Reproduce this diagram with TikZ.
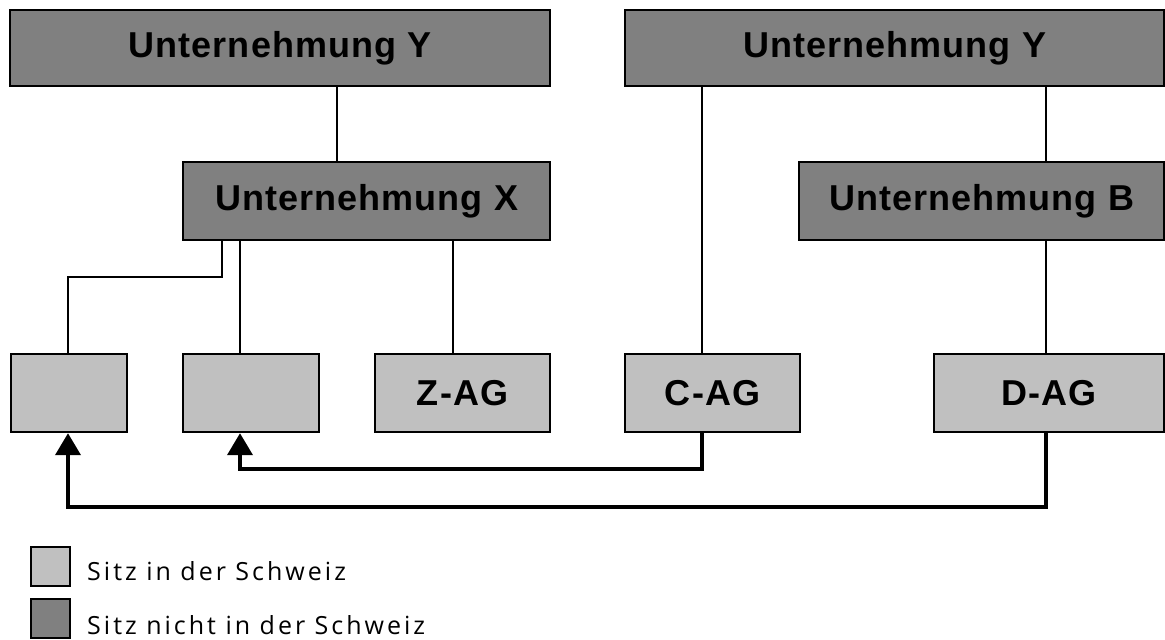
\documentclass[tikz,border=0pt]{standalone}
\usepackage{fontspec}
\setmainfont{Liberation Sans}
\newfontfamily\boxfont[LetterSpace=3]{Liberation Sans}
\newfontfamily\legfont[LetterSpace=12]{Open Sans}
\usetikzlibrary{arrows.meta}
\definecolor{darkbox}{HTML}{808080}
\definecolor{lightbox}{HTML}{C0C0C0}
\begin{document}
\begin{tikzpicture}[x=1pt,y=-1pt,
  company/.style={draw=black, line width=2.2pt, inner sep=0pt, anchor=north west,
    font=\boxfont\bfseries\fontsize{36}{40}\selectfont},
  foreign/.style={company, fill=darkbox},
  swiss/.style={company, fill=lightbox},
  link/.style={line width=1.8pt},
  flow/.style={line width=4pt, -{Triangle[length=22pt,width=25pt]}},
  legbox/.style={draw=black, line width=2pt, fill=#1, inner sep=0pt, anchor=north west,
    minimum width=39pt, minimum height=39pt},
  legtext/.style={anchor=base west, inner sep=0pt, font=\legfont\fontsize{25}{30}\selectfont}
]
\useasboundingbox (0,0) rectangle (1165,640);
% top level
\node[foreign, minimum width=540pt, minimum height=76pt] (yl) at (9,9) {Unternehmung Y};
\node[foreign, minimum width=539pt, minimum height=76pt] (yr) at (624,9) {Unternehmung Y};
% middle level
\node[foreign, minimum width=367pt, minimum height=78pt] (ux) at (182,161) {Unternehmung X};
\node[foreign, minimum width=365pt, minimum height=78pt] (ub) at (798,161) {Unternehmung B};
% bottom level
\node[swiss, minimum width=116pt, minimum height=78pt] (b1) at (10,353) {};
\node[swiss, minimum width=136pt, minimum height=78pt] (b2) at (182,353) {};
\node[swiss, minimum width=175pt, minimum height=78pt] (zag) at (374,353) {Z-AG};
\node[swiss, minimum width=175pt, minimum height=78pt] (cag) at (624,353) {C-AG};
\node[swiss, minimum width=230pt, minimum height=78pt] (dag) at (933,353) {D-AG};
% connectors
\draw[link] (yl.south -| 337,0) -- (ux.north -| 337,0);
\draw[link] (ux.south -| 222,0) |- (68,277) -- (b1.north -| 68,0);
\draw[link] (ux.south -| 240,0) -- (b2.north -| 240,0);
\draw[link] (ux.south -| 453,0) -- (zag.north -| 453,0);
\draw[link] (yr.south -| 702,0) -- (cag.north -| 702,0);
\draw[link] (yr.south -| 1046,0) -- (ub.north -| 1046,0);
\draw[link] (ub.south -| 1046,0) -- (dag.north -| 1046,0);
% flows
\coordinate (c1) at (702,469);
\coordinate (c2) at (240,469);
\coordinate (d1) at (1046,507);
\coordinate (d2) at (68,507);
\draw[flow] (cag.south -| c1) -- (c1) -- (c2) -- (b2.south -| c2);
\draw[flow] (dag.south -| d1) -- (d1) -- (d2) -- (b1.south -| d2);
% legend
\node[legbox=lightbox] (leg1) at (30,546) {};
\node[legbox=darkbox] (leg2) at (30,598) {};
\node[legtext] (legt1) at (87,580) {Sitz in der Schweiz};
\node[legtext] (legt2) at (87,634) {Sitz nicht in der Schweiz};
\end{tikzpicture}
\end{document}
